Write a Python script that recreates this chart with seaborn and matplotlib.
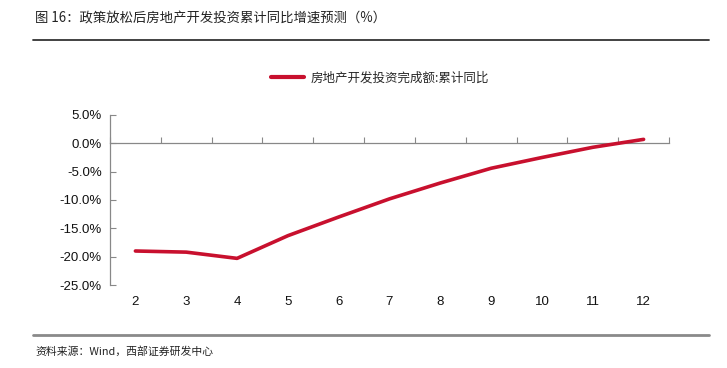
import matplotlib
matplotlib.use("Agg")
import matplotlib.pyplot as plt
import seaborn as sns
import pandas as pd
from matplotlib.lines import Line2D

months = [2, 3, 4, 5, 6, 7, 8, 9, 10, 11, 12]
yoy = [-19.0, -19.2, -20.3, -16.3, -13.0, -9.8, -7.0, -4.4, -2.5, -0.7, 0.7]
yticks = [5, 0, -5, -10, -15, -20, -25]

title = "图 16：政策放松后房地产开发投资累计同比增速预测（%）"
series_name = "房地产开发投资完成额:累计同比"
source = "资料来源：Wind，西部证券研发中心"

sns.set_theme(style="white")
plt.rcParams['font.family'] = ['Liberation Sans', 'Noto Sans CJK SC', 'DejaVu Sans']

df = pd.DataFrame({"pos": list(range(len(months))), "val": yoy})

fig = plt.figure(figsize=(7.27, 3.68), dpi=100)
W, H = 727, 368
ax = fig.add_axes([110 / W, 1 - 285 / H, (669 - 110) / W, (285 - 115) / H])

red = "#C8102E"
sns.lineplot(data=df, x="pos", y="val", ax=ax, color=red, linewidth=2.6, legend=False)

ax.set_xlim(-0.5, len(months) - 0.5)
ax.set_ylim(-25, 5)
ax.set_yticks(yticks)
ax.set_yticklabels([f"{v:.1f}%" for v in yticks], fontsize=9.5, color="#111111")
ax.set_xticks(range(len(months)))
ax.set_xticklabels([str(m) for m in months], fontsize=9.5, color="#111111")
ax.tick_params(axis="x", length=0, pad=8)
ax.tick_params(axis="y", direction="in", length=4, width=0.8, color="#888888", pad=6, left=True)
ax.set_xlabel("")
ax.set_ylabel("")
for s in ["top", "right", "bottom"]:
    ax.spines[s].set_visible(False)
ax.spines["left"].set_color("#888888")
ax.spines["left"].set_linewidth(0.9)

# zero axis line with category boundary ticks
sec = ax.secondary_xaxis(25 / 30)
sec.set_xticks([i - 0.5 for i in range(len(months) + 1)])
sec.set_xticklabels([])
sec.tick_params(axis="x", direction="out", length=4, width=0.8, color="#888888")
for s in ["top", "bottom"]:
    sec.spines[s].set_color("#888888")
    sec.spines[s].set_linewidth(0.9)

# legend
handle = Line2D([0], [0], color=red, linewidth=3)
fig.legend([handle], [series_name], loc="center", bbox_to_anchor=(380 / W, 1 - 78 / H),
           frameon=False, handlelength=2.6, handletextpad=0.5,
           prop={"family": ["Noto Sans CJK SC"], "size": 9})

# title and rules
fig.text(35 / W, 1 - 19 / H, title, fontsize=9.6, color="#222222", va="center", ha="left",
         family=["Noto Sans CJK SC"])
fig.add_artist(Line2D([33 / W, 709 / W], [1 - 39.5 / H, 1 - 39.5 / H], color="#333333", linewidth=1.3))
fig.add_artist(Line2D([33 / W, 709 / W], [1 - 335 / H, 1 - 335 / H], color="#8a8a8a", linewidth=2.0))
fig.text(35 / W, 1 - 351 / H, source, fontsize=7.8, color="#222222", va="center", ha="left",
         family=["Noto Sans CJK SC"])

fig.savefig("out.png", dpi=100)
